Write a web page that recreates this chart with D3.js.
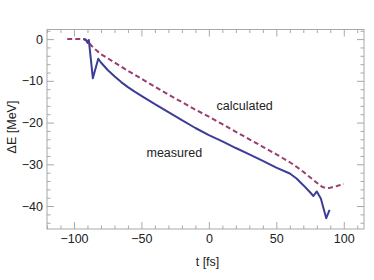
<!DOCTYPE html>
<html>
<head>
<meta charset="utf-8">
<script src="https://cdn.jsdelivr.net/npm/d3@7"></script>
<style>
  body { margin: 0; background: #fff; }
  svg text { font-family: "Liberation Sans", Arial, sans-serif; }
</style>
</head>
<body>
<svg id="chart" width="374" height="280"></svg>
<script>
// calculated curve (dashed)
var calcT = [-105, -100, -95, -92, -90, -87, -84, -80, -75, -70, -65, -60, -50, -40, -30, -20, -10, 0,
             10, 20, 30, 40, 50, 60, 65, 70, 75, 80, 84, 87, 90, 95, 100];
var calcE = [0, 0, 0, 0, -0.5, -1.6, -2.5, -3.6, -4.6, -5.6, -6.6, -7.6, -9.5, -11.4, -13.3, -15.1, -16.9, -18.6,
             -20.4, -22.2, -24.0, -25.8, -27.6, -29.5, -30.6, -31.8, -33.1, -34.4, -35.4, -35.7, -35.6, -35.2, -34.7];

// measured curve (solid)
var measT = [-93, -91, -90, -89, -86, -82, -80, -75, -70, -65, -60, -55, -50, -40, -30, -20, -10, 0,
             10, 20, 30, 40, 50, 60, 65, 70, 75, 77.5, 80, 83, 87, 89.5];
var measE = [0, -0.3, -0.9, -0.2, -9.4, -4.7, -5.6, -7.4, -8.9, -10.3, -11.5, -12.6, -13.6, -15.6, -17.5, -19.4, -21.3, -23.0,
             -24.5, -26.1, -27.6, -29.2, -30.8, -32.2, -33.4, -35.0, -36.7, -37.6, -36.5, -38.2, -42.9, -40.9];

var xMajor = [-100, -50, 0, 50, 100];
var yMajor = [0, -10, -20, -30, -40];

var svg = d3.select("#chart");

var x = d3.scaleLinear().domain([-120, 115]).range([47, 364]);
var y = d3.scaleLinear().domain([-45.5, 2.3]).range([229, 29.5]);

var xMinor = d3.range(-120, 116, 10).filter(function(d) { return xMajor.indexOf(d) < 0; });
var yMinor = d3.range(-44, 3, 2).filter(function(d) { return yMajor.indexOf(d) < 0; });

var frameColor = "#a8a8a8";
var labelColor = "#222";

function styleAxis(g) {
    g.select(".domain").remove();
    g.selectAll(".tick line").attr("stroke", frameColor);
    g.selectAll(".tick text")
        .attr("fill", labelColor)
        .style("font-size", "12.5px");
}

// bottom
svg.append("g")
    .attr("transform", "translate(0," + y.range()[0] + ")")
    .call(d3.axisBottom(x).tickValues(xMajor).tickSize(-7).tickPadding(5))
    .call(styleAxis);
svg.append("g")
    .attr("transform", "translate(0," + y.range()[0] + ")")
    .call(d3.axisBottom(x).tickValues(xMinor).tickSize(-3.5).tickFormat(""))
    .call(styleAxis);
// top
svg.append("g")
    .attr("transform", "translate(0," + y.range()[1] + ")")
    .call(d3.axisTop(x).tickValues(xMajor).tickSize(-7).tickFormat(""))
    .call(styleAxis);
svg.append("g")
    .attr("transform", "translate(0," + y.range()[1] + ")")
    .call(d3.axisTop(x).tickValues(xMinor).tickSize(-3.5).tickFormat(""))
    .call(styleAxis);
// left
svg.append("g")
    .attr("transform", "translate(" + x.range()[0] + ",0)")
    .call(d3.axisLeft(y).tickValues(yMajor).tickSize(-7).tickPadding(4))
    .call(styleAxis);
svg.append("g")
    .attr("transform", "translate(" + x.range()[0] + ",0)")
    .call(d3.axisLeft(y).tickValues(yMinor).tickSize(-3.5).tickFormat(""))
    .call(styleAxis);
// right
svg.append("g")
    .attr("transform", "translate(" + x.range()[1] + ",0)")
    .call(d3.axisRight(y).tickValues(yMajor).tickSize(-7).tickFormat(""))
    .call(styleAxis);
svg.append("g")
    .attr("transform", "translate(" + x.range()[1] + ",0)")
    .call(d3.axisRight(y).tickValues(yMinor).tickSize(-3.5).tickFormat(""))
    .call(styleAxis);

// frame
svg.append("rect")
    .attr("x", x.range()[0])
    .attr("y", y.range()[1])
    .attr("width", x.range()[1] - x.range()[0])
    .attr("height", y.range()[0] - y.range()[1])
    .attr("fill", "none")
    .attr("stroke", frameColor)
    .attr("stroke-width", 1);

var line = d3.line()
    .x(function(d) { return x(d[0]); })
    .y(function(d) { return y(d[1]); });

svg.append("path")
    .datum(d3.zip(calcT, calcE))
    .attr("d", line)
    .attr("fill", "none")
    .attr("stroke", "#993d71")
    .attr("stroke-width", 2)
    .attr("stroke-dasharray", "5,3");

svg.append("path")
    .datum(d3.zip(measT, measE))
    .attr("d", line)
    .attr("fill", "none")
    .attr("stroke", "#3d3d99")
    .attr("stroke-width", 2)
    .attr("stroke-linejoin", "round");

// annotations
svg.append("text")
    .attr("x", 216.5)
    .attr("y", 110)
    .attr("fill", labelColor)
    .style("font-size", "12.5px")
    .text("calculated");

svg.append("text")
    .attr("x", 146.5)
    .attr("y", 157)
    .attr("fill", labelColor)
    .style("font-size", "12.5px")
    .text("measured");

// axis labels
svg.append("text")
    .attr("x", 207.5)
    .attr("y", 265.5)
    .attr("text-anchor", "middle")
    .attr("fill", labelColor)
    .style("font-size", "12.5px")
    .text("t [fs]");

svg.append("text")
    .attr("transform", "translate(15.5,127) rotate(-90)")
    .attr("text-anchor", "middle")
    .attr("fill", labelColor)
    .style("font-size", "12.5px")
    .text("ΔE [MeV]");
</script>
</body>
</html>
